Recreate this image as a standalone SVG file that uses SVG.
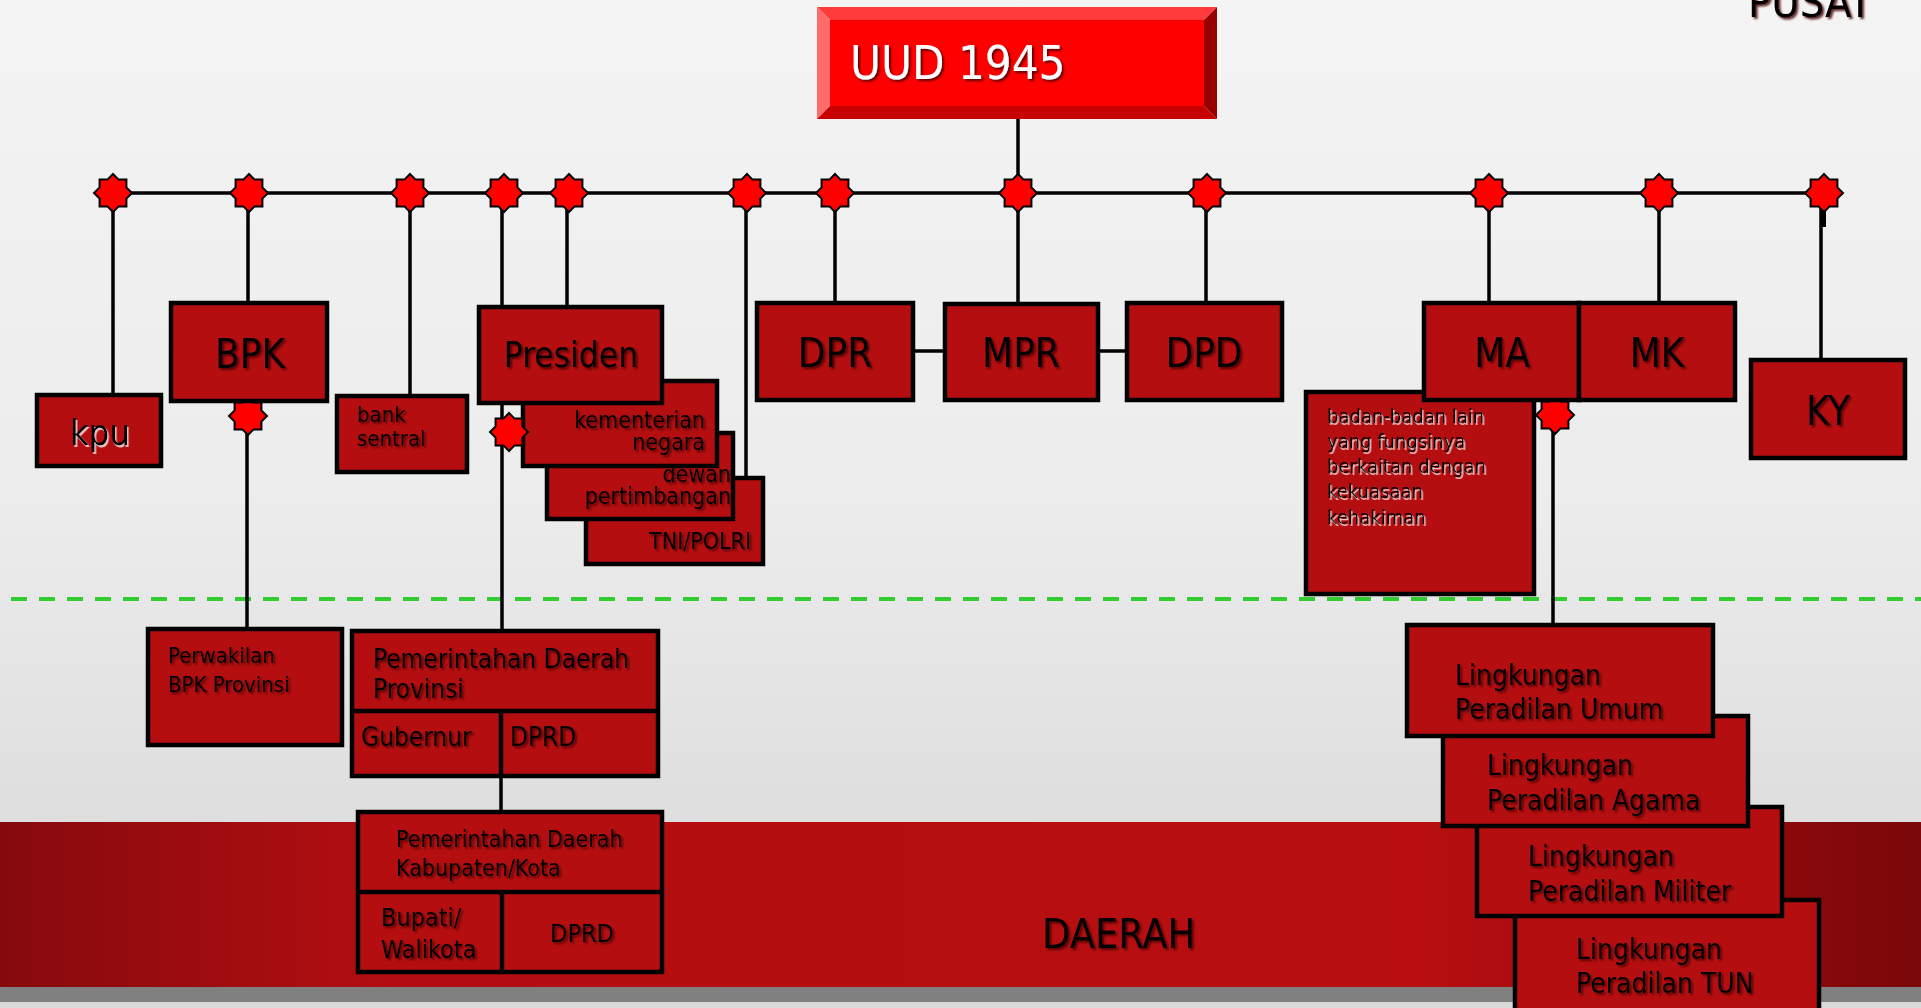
<svg xmlns="http://www.w3.org/2000/svg" xmlns:xlink="http://www.w3.org/1999/xlink" width="1921" height="1008" viewBox="0 0 1921 1008">
<defs>
<linearGradient id="bg" x1="0" y1="0" x2="0" y2="1">
<stop offset="0" stop-color="#F4F4F4"/>
<stop offset="0.5" stop-color="#ECECEC"/>
<stop offset="1" stop-color="#D6D6D6"/>
</linearGradient>
<linearGradient id="band" x1="0" y1="0" x2="1" y2="0">
<stop offset="0" stop-color="#860A0D"/>
<stop offset="0.2" stop-color="#B20E11"/>
<stop offset="0.74" stop-color="#B80E11"/>
<stop offset="1" stop-color="#7A0709"/>
</linearGradient>
<filter id="sh" x="-10%" y="-20%" width="130%" height="150%">
<feDropShadow dx="2" dy="2" stdDeviation="1" flood-color="#4a0000" flood-opacity="0.85"/>
</filter>
<filter id="shw" x="-10%" y="-20%" width="130%" height="150%">
<feDropShadow dx="1.5" dy="2" stdDeviation="0.6" flood-color="#ffffff" flood-opacity="0.75"/>
</filter>
<polygon id="star" points="0,-19 5.55,-13.4 13.43,-13.43 13.4,-5.55 19,0 13.4,5.55 13.43,13.43 5.55,13.4 0,19 -5.55,13.4 -13.43,13.43 -13.4,5.55 -19,0 -13.4,-5.55 -13.43,-13.43 -5.55,-13.4" fill="#FF0000" stroke="#000" stroke-width="2" stroke-linejoin="miter"/>
</defs>
<style>
.box{fill:#B50E10;stroke:#000;stroke-width:4.5}
.ln{stroke:#000;stroke-width:3.5;fill:none}
.t{font-family:"DejaVu Sans Condensed","DejaVu Sans",sans-serif;fill:#000;filter:url(#sh)}
.tw{font-family:"DejaVu Sans Condensed","DejaVu Sans",sans-serif;fill:#000;filter:url(#shw)}
.c{text-anchor:middle}
.e{text-anchor:end}
</style>

<rect x="0" y="0" width="1921" height="1008" fill="url(#bg)"/>
<rect x="0" y="822" width="1921" height="165" fill="url(#band)"/>
<rect x="0" y="987" width="1921" height="15" fill="#808080"/>
<rect x="0" y="1002" width="1921" height="6" fill="#D9D9D9"/>
<line x1="11" y1="599" x2="1921" y2="599" stroke="#33CC33" stroke-width="4" stroke-dasharray="16 12"/>
<text class="t" x="1748" y="17" font-size="43">PUSAT</text>
<text class="t" x="1042" y="948" font-size="41">DAERAH</text>

<g id="connectors">
<line class="ln" x1="113" y1="193" x2="1824" y2="193"/>
<line class="ln" x1="1018" y1="119" x2="1018" y2="193"/>
<line class="ln" x1="113" y1="193" x2="113" y2="395"/>
<line class="ln" x1="248" y1="193" x2="248" y2="303"/>
<line class="ln" x1="410" y1="193" x2="410" y2="396"/>
<line class="ln" x1="502" y1="193" x2="502" y2="631"/>
<line class="ln" x1="567" y1="193" x2="567" y2="307"/>
<line class="ln" x1="746" y1="193" x2="746" y2="478"/>
<line class="ln" x1="835" y1="193" x2="835" y2="303"/>
<line class="ln" x1="1018" y1="193" x2="1018" y2="304"/>
<line class="ln" x1="1206" y1="193" x2="1206" y2="303"/>
<line class="ln" x1="1489" y1="193" x2="1489" y2="303"/>
<line class="ln" x1="1659" y1="193" x2="1659" y2="303"/>
<line class="ln" x1="1821" y1="193" x2="1821" y2="360"/>
<rect x="1821" y="205" width="5" height="22" fill="#000"/>
<line class="ln" x1="247" y1="401" x2="247" y2="629"/>
<line class="ln" x1="1553" y1="400" x2="1553" y2="625"/>
<line class="ln" x1="501" y1="776" x2="501" y2="812"/>
<line class="ln" x1="913" y1="351" x2="945" y2="351"/>
<line class="ln" x1="1098" y1="351" x2="1127" y2="351"/>
<use xlink:href="#star" href="#star" x="113" y="193"/>
<use xlink:href="#star" href="#star" x="249" y="193"/>
<use xlink:href="#star" href="#star" x="410" y="193"/>
<use xlink:href="#star" href="#star" x="504" y="193"/>
<use xlink:href="#star" href="#star" x="569" y="193"/>
<use xlink:href="#star" href="#star" x="747" y="193"/>
<use xlink:href="#star" href="#star" x="835" y="193"/>
<use xlink:href="#star" href="#star" x="1018" y="193"/>
<use xlink:href="#star" href="#star" x="1207" y="193"/>
<use xlink:href="#star" href="#star" x="1489" y="193"/>
<use xlink:href="#star" href="#star" x="1659" y="193"/>
<use xlink:href="#star" href="#star" x="1824" y="193"/>
<use xlink:href="#star" href="#star" x="248" y="416"/>
<use xlink:href="#star" href="#star" x="1555" y="415"/>
</g>

<g id="uud">
<polygon points="817,7 1217,7 1204,20 830,20" fill="#FF3B3B"/>
<polygon points="817,7 830,20 830,106 817,119" fill="#FF6A6A"/>
<polygon points="817,119 830,106 1204,106 1217,119" fill="#C80000"/>
<polygon points="1217,7 1217,119 1204,106 1204,20" fill="#990000"/>
<rect x="830" y="20" width="374" height="86" fill="#FF0000"/>
<text x="850" y="79" font-size="47" font-family="DejaVu Sans Condensed, DejaVu Sans, sans-serif" fill="#FFFFFF" filter="url(#sh)">UUD 1945</text>
</g>

<g id="kpu">
<rect class="box" x="37" y="395" width="124" height="71"/>
<text class="tw c" x="100" y="445" font-size="36">kpu</text>
</g>
<g id="bpk">
<rect class="box" x="171" y="303" width="156" height="98"/>
<text class="t c" x="250" y="368" font-size="40">BPK</text>
</g>
<g id="bank-sentral">
<rect class="box" x="337" y="396" width="130" height="76"/>
<text class="t" x="357" y="422" font-size="22">bank</text>
<text class="t" x="357" y="446" font-size="22">sentral</text>
</g>
<g id="tni-polri">
<rect class="box" x="586" y="478" width="177" height="86"/>
<text class="t e" x="751" y="549" font-size="23">TNI/POLRI</text>
</g>
<g id="dewan-pertimbangan">
<rect class="box" x="547" y="433" width="186" height="86"/>
<text class="t e" x="731" y="482" font-size="23">dewan</text>
<text class="t e" x="731" y="504" font-size="23">pertimbangan</text>
</g>
<g id="kementerian-negara">
<rect class="box" x="523" y="381" width="194" height="85"/>
<text class="t e" x="705" y="428" font-size="23">kementerian</text>
<text class="t e" x="705" y="450" font-size="23">negara</text>
</g>
<g id="presiden">
<rect class="box" x="479" y="307" width="183" height="96"/>
<text class="t c" x="571" y="367" font-size="35">Presiden</text>
</g>
<use xlink:href="#star" href="#star" x="509" y="432"/>
<g id="dpr">
<rect class="box" x="757" y="303" width="156" height="97"/>
<text class="t c" x="835" y="367" font-size="40">DPR</text>
</g>
<g id="mpr">
<rect class="box" x="945" y="304" width="153" height="96"/>
<text class="t c" x="1021" y="367" font-size="40">MPR</text>
</g>
<g id="dpd">
<rect class="box" x="1127" y="303" width="155" height="97"/>
<text class="t c" x="1204" y="367" font-size="40">DPD</text>
</g>
<g id="badan-badan-lain">
<rect class="box" x="1306" y="392" width="228" height="202"/>
<text class="tw" x="1327" y="423" font-size="20">badan-badan lain</text>
<text class="tw" x="1327" y="448" font-size="20">yang fungsinya</text>
<text class="tw" x="1327" y="473" font-size="20">berkaitan dengan</text>
<text class="tw" x="1327" y="498" font-size="20">kekuasaan</text>
<text class="tw" x="1327" y="524" font-size="20">kehakiman</text>
</g>
<g id="ma">
<rect class="box" x="1424" y="303" width="155" height="97"/>
<text class="t c" x="1502" y="367" font-size="40">MA</text>
</g>
<g id="mk">
<rect class="box" x="1579" y="303" width="156" height="97"/>
<text class="t c" x="1657" y="367" font-size="40">MK</text>
</g>
<g id="ky">
<rect class="box" x="1751" y="360" width="154" height="98"/>
<text class="t c" x="1828" y="425" font-size="40">KY</text>
</g>

<g id="perwakilan-bpk-provinsi">
<rect class="box" x="148" y="629" width="194" height="116"/>
<text class="t" x="168" y="663" font-size="22">Perwakilan</text>
<text class="t" x="168" y="692" font-size="22">BPK Provinsi</text>
</g>
<g id="pemda-provinsi">
<rect class="box" x="352" y="631" width="306" height="145"/>
<line x1="352" y1="711" x2="658" y2="711" stroke="#000" stroke-width="4.5"/>
<line x1="501" y1="711" x2="501" y2="776" stroke="#000" stroke-width="4.5"/>
<text class="t" x="373" y="668" font-size="26">Pemerintahan Daerah</text>
<text class="t" x="373" y="698" font-size="26">Provinsi</text>
<text class="t" x="361" y="746" font-size="26">Gubernur</text>
<text class="t" x="510" y="746" font-size="26">DPRD</text>
</g>
<g id="pemda-kabupaten-kota">
<rect class="box" x="358" y="812" width="304" height="160"/>
<line x1="358" y1="892" x2="662" y2="892" stroke="#000" stroke-width="4.5"/>
<line x1="502" y1="892" x2="502" y2="972" stroke="#000" stroke-width="4.5"/>
<text class="t" x="396" y="847" font-size="23">Pemerintahan Daerah</text>
<text class="t" x="396" y="876" font-size="23">Kabupaten/Kota</text>
<text class="t" x="381" y="926" font-size="25">Bupati/</text>
<text class="t" x="381" y="958" font-size="25">Walikota</text>
<text class="t c" x="582" y="942" font-size="25">DPRD</text>
</g>

<g id="peradilan-tun">
<rect class="box" x="1515" y="900" width="304" height="120"/>
<text class="t" x="1576" y="959" font-size="28">Lingkungan</text>
<text class="t" x="1576" y="993" font-size="28">Peradilan TUN</text>
</g>
<g id="peradilan-militer">
<rect class="box" x="1477" y="807" width="305" height="109"/>
<text class="t" x="1528" y="866" font-size="28">Lingkungan</text>
<text class="t" x="1528" y="901" font-size="28">Peradilan Militer</text>
</g>
<g id="peradilan-agama">
<rect class="box" x="1443" y="716" width="305" height="110"/>
<text class="t" x="1487" y="775" font-size="28">Lingkungan</text>
<text class="t" x="1487" y="810" font-size="28">Peradilan Agama</text>
</g>
<g id="peradilan-umum">
<rect class="box" x="1407" y="625" width="306" height="111"/>
<text class="t" x="1455" y="685" font-size="28">Lingkungan</text>
<text class="t" x="1455" y="719" font-size="28">Peradilan Umum</text>
</g>
</svg>
